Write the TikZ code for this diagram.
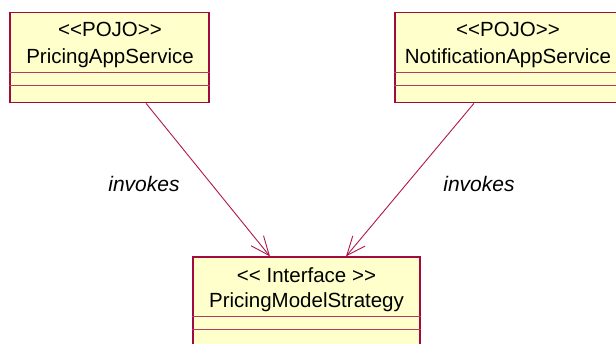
\documentclass[tikz,border=0pt]{standalone}
\usepackage{fontspec}
\setmainfont{Liberation Sans}[Ligatures=TeXOff]
\usetikzlibrary{arrows.meta}
\definecolor{classfill}{RGB}{255,255,204}
\definecolor{classline}{RGB}{160,10,60}
\definecolor{linkline}{RGB}{176,24,76}
\tikzset{
  classbox/.style={draw=classline, fill=classfill, line width=1.2pt,
    rectangle, inner sep=0pt, minimum height=90pt},
  compart/.style={draw=classline!80, line width=0.9pt},
  classtext/.style={anchor=base, inner sep=0pt, font=\fontsize{20.5}{23}\selectfont},
  invoke/.style={draw=linkline, line width=0.9pt,
    -{Straight Barb[length=19pt,width=16pt,line width=0.9pt]}},
  linklabel/.style={inner sep=0pt, font=\fontsize{21}{23}\selectfont\itshape}
}
\begin{document}
\begin{tikzpicture}[x=1pt,y=-1pt]
\clip (0,0) rectangle (616,343);
\fill[white] (0,0) rectangle (616,343);

% class boxes
\node[classbox, minimum width=199pt] (pricing) at (109.5,57.7) {};
\node[classbox, minimum width=226pt] (notification) at (508,57.7) {};
\node[classbox, minimum width=227pt] (strategy) at (306.5,302) {};

% compartment separators
\draw[compart] (pricing.west |- 0,72) -- (pricing.east |- 0,72);
\draw[compart] (pricing.west |- 0,85) -- (pricing.east |- 0,85);
\draw[compart] (notification.west |- 0,72) -- (notification.east |- 0,72);
\draw[compart] (notification.west |- 0,85) -- (notification.east |- 0,85);
\draw[compart] (strategy.west |- 0,316.7) -- (strategy.east |- 0,316.7);
\draw[compart] (strategy.west |- 0,329) -- (strategy.east |- 0,329);

% class names
\node[classtext] (pricing-st) at (110,36.7) {<<POJO>>};
\node[classtext] (pricing-name) at (110,63) {PricingAppService};
\node[classtext] (notification-st) at (508,36.7) {<<POJO>>};
\node[classtext] (notification-name) at (508,63) {NotificationAppService};
\node[classtext] (strategy-st) at (306.5,282.7) {<< Interface >>};
\node[classtext] (strategy-name) at (306.5,307) {PricingModelStrategy};

% dependencies
\draw[invoke] ([xshift=36.5pt]pricing.south) -- ([xshift=-36.5pt]strategy.north);
\draw[invoke] ([xshift=-34pt]notification.south) -- ([xshift=39.5pt]strategy.north);

\node[linklabel] (label-left) at (144,184) {invokes};
\node[linklabel] (label-right) at (479,184) {invokes};
\end{tikzpicture}
\end{document}
